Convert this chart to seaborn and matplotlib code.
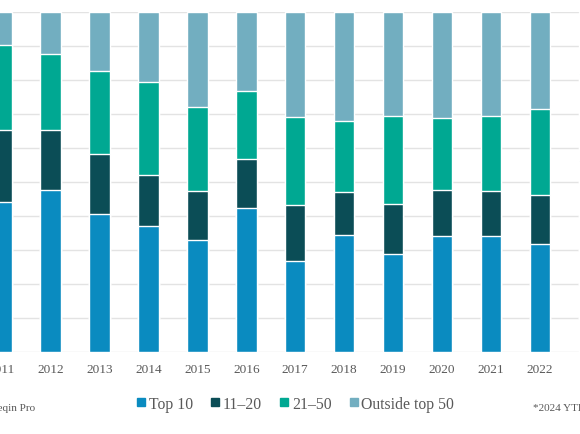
import matplotlib
matplotlib.use("Agg")
import matplotlib.pyplot as plt
from matplotlib.lines import Line2D
import numpy as np
import pandas as pd
import seaborn as sns

years = ["2011", "2012", "2013", "2014", "2015", "2016", "2017",
         "2018", "2019", "2020", "2021", "2022", "2023"]
top10 = [44.1, 47.6, 40.6, 37.1, 32.9, 42.5, 26.8, 34.4, 28.8, 34.1, 34.1, 31.8, 40.0]
r11_20 = [21.2, 17.6, 17.6, 15.0, 14.4, 14.3, 16.5, 12.6, 14.7, 13.5, 13.2, 14.4, 16.2]
r21_50 = [25.0, 22.4, 24.4, 27.4, 24.7, 20.0, 25.9, 20.9, 25.9, 21.2, 22.1, 25.3, 25.6]
outside = [9.7, 12.4, 17.4, 20.6, 27.9, 23.2, 30.9, 32.1, 30.6, 31.2, 30.6, 28.5, 18.2]
series_names = ["Top 10", "11\u201320", "21\u201350", "Outside top 50"]
colors = ["#0A8BC0", "#0B4D56", "#00A892", "#72AEC0"]

sns.set_theme(style="white")
plt.rcParams["font.family"] = ["Liberation Serif", "DejaVu Serif"]

df = pd.DataFrame({"year": years, "Top 10": top10, "11\u201320": r11_20,
                   "21\u201350": r21_50, "Outside top 50": outside})
cum = df[series_names].cumsum(axis=1)

fig = plt.figure(figsize=(5.8, 4.35), dpi=100)
ax = fig.add_axes([0.0, 0.1885, 1.0, 0.7816])

for name, col in reversed(list(zip(series_names, colors))):
    sns.barplot(x=df["year"], y=cum[name], color=col, width=0.42,
                saturation=1, ax=ax, zorder=3, order=years)

ax.set_ylim(0, 100)
ax.set_yticks(np.arange(0, 101, 10))
ax.yaxis.grid(True, color="#E3E3E3", linewidth=1.0, zorder=0)
ax.set_axisbelow(True)
ax.set_xlim(-1.5 / 48.95, (580 - 1.5) / 48.95)
ax.set_yticklabels([])
ax.tick_params(axis="y", length=0)
ax.tick_params(axis="x", length=0, labelsize=9.5, colors="#595959", pad=8)
ax.set_xlabel("")
ax.set_ylabel("")
for s in ax.spines.values():
    s.set_visible(False)

handles = [Line2D([], [], marker="s", linestyle="none", markersize=5.5,
                  color=c) for c in colors]
leg = fig.legend(handles, series_names, loc="center", ncol=4,
                 bbox_to_anchor=(0.508, 0.069), frameon=False,
                 fontsize=11.3, handletextpad=0.1, columnspacing=1.0,
                 handlelength=0.8, labelcolor="#595959")

fig.text(35 / 580, 0.062, "Source: Preqin Pro", ha="right", va="center",
         fontsize=8, color="#595959")
fig.text(533 / 580, 0.062, "*2024 YTD", ha="left", va="center",
         fontsize=8, color="#595959")

fig.savefig("out.png", dpi=100)
